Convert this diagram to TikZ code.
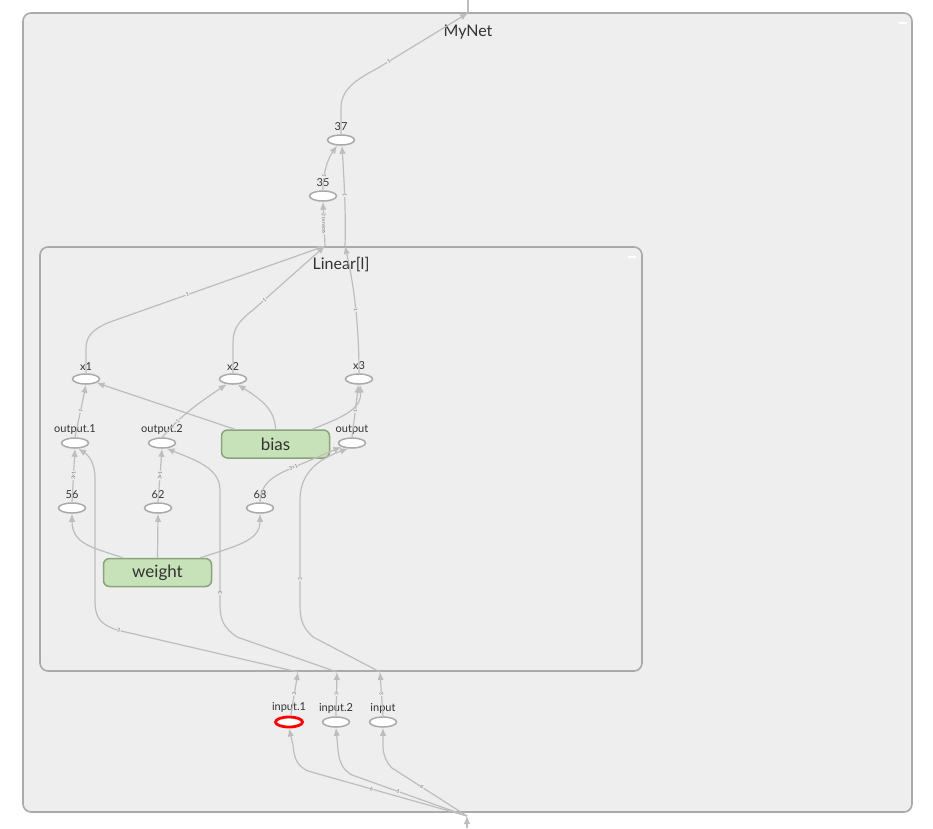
\documentclass[tikz,border=0pt]{standalone}
\usepackage{fontspec}
\setmainfont{Lato}
\usetikzlibrary{shapes.geometric,
	arrows.meta,
	calc,
	positioning}
\definecolor{grpfill}{HTML}{EEEEEE}
\definecolor{grpline}{HTML}{AAAAAA}
\definecolor{edgecol}{HTML}{BDBDBD}
\definecolor{txtcol}{HTML}{333333}
\definecolor{varfill}{HTML}{C7E2B8}
\definecolor{varline}{HTML}{8BA37C}
\tikzstyle{grp}=[draw=grpline, fill=grpfill, line width=1.6pt, rounded corners=8pt]
\tikzstyle{grptitle}=[text=txtcol, font=\fontsize{16}{19}\selectfont, inner sep=0]
\tikzstyle{op}=[ellipse, draw=grpline, fill=white, line width=1.5pt, minimum width=27pt,
		minimum height=10pt, inner sep=0]
\tikzstyle{opin}=[op, draw=red, line width=2.8pt]
\tikzstyle{var}=[draw=varline, fill=varfill, line width=1.5pt, rounded corners=6pt,
		minimum width=108pt, minimum height=28pt, text=txtcol, font=\fontsize{17}{20}\selectfont]
\tikzstyle{lbl}=[text=txtcol, font=\fontsize{11}{13}\selectfont, inner sep=0, yshift=3pt]
\tikzstyle{edge}=[draw=edgecol, line width=1.2pt, -{Latex[length=8pt,width=6.5pt]}]
\tikzstyle{plain}=[draw=edgecol, line width=1.2pt]
\tikzstyle{tag}=[sloped, text=black!55, font=\fontsize{5}{5}\selectfont, inner sep=0.4pt, fill=grpfill]
\tikzstyle{grpmin}=[draw=white, line width=1.6pt]

\begin{document}
\begin{tikzpicture}[x=1pt, y=-1pt]
                \useasboundingbox (0,0) rectangle (933,828);
                \draw[grp] (23,13) rectangle (912,812);
                \node[grptitle] (tnet) at (468,32) {MyNet};
                \draw[grpmin] (899,23) -- (907,23);
                \draw[grp] (40,247) rectangle (642,671);
                \node[grptitle] (tlin) at (341,265) {Linear[l]};
                \draw[grpmin] (628,257) -- (636,257);

                \coordinate (netout) at (468,0);
                \coordinate (nett) at (468,13);
                \coordinate (netin) at (467,828);
                \coordinate (netb) at (467,816);
                \coordinate (lint1) at (325,246);
                \coordinate (lint2) at (345,246);
                \coordinate (linb1) at (298,672);
                \coordinate (linb2) at (337,672);
                \coordinate (linb3) at (380,672);

                \node[op, label={[lbl]above:37}] (n37) at (341,140) {};
                \node[op, label={[lbl]above:35}] (n35) at (323,196) {};
                \node[op, label={[lbl]above:x1}] (x1) at (86,379) {};
                \node[op, label={[lbl]above:x2}] (x2) at (233,379) {};
                \node[op, label={[lbl]above:x3}] (x3) at (359,379) {};
                \node[op, label={[lbl]above:output.1}] (o1) at (75,443) {};
                \node[op, label={[lbl]above:output.2}] (o2) at (162,443) {};
                \node[op, label={[lbl]above:output}] (out) at (352,443) {};
                \node[op, label={[lbl]above:56}] (n56) at (72,508) {};
                \node[op, label={[lbl]above:62}] (n62) at (158,508) {};
                \node[op, label={[lbl]above:68}] (n68) at (260,508) {};
                \node[opin, label={[lbl]above:input.1}] (in1) at (289,722) {};
                \node[op, label={[lbl]above:input.2}] (in2) at (336,722) {};
                \node[op, label={[lbl]above:input}] (inp) at (383,722) {};
                \node[var] (bias) at (275.5,444) {bias};
                \node[var] (weight) at (157.5,572.5) {weight};

                \draw[plain] (nett) -- (netout);
                \draw[edge] (n37.north) -- (341,108) .. controls (341,90) and (355,80) .. (378,68)
                    -- node[tag, pos=0.12] {1} (nett);
                \draw[edge] (n35.north) .. controls (323,174) and (327,160) .. node[tag, pos=0.3] {1} (n37.-125);
                \draw[edge] (lint2) .. controls (346,210) and (344,180) .. node[tag, pos=0.5] {1} (n37.-80);
                \draw[edge] (lint1) -- node[tag] {2 tensors} (n35.south);

                \draw[edge] (x1.north) -- (86,348) .. controls (86,335) and (95,328) .. (110,322)
                    -- node[tag, pos=0.36] {1} (lint1);
                \draw[edge] (x2.north) -- (233,342) .. controls (233,328) and (240,320) .. (253,310)
                    -- node[tag, pos=0.16] {1} (lint1);
                \draw[edge] (x3.north) .. controls (359,330) and (355,290) .. node[tag, pos=0.5] {1} (lint2);

                \draw[edge] (o1.north) -- node[tag] {1} (x1.south);
                \draw[edge] ([xshift=14pt]bias.north west) -- (x1.-20);
                \draw[edge] (o2.north) .. controls (172,427) and (180,415) .. node[tag, pos=0.45] {1} (x2.-140);
                \draw[edge] (bias.north) .. controls (275,410) and (262,400) .. (x2.-50);
                \draw[edge] ([xshift=-18pt]bias.north east) .. controls (340,418) and (362,410) .. (x3.-80);
                \draw[edge] (out.north) -- node[tag] {1} (x3.-95);

                \draw[edge] (n56.north) -- node[tag] {3×1} (o1.south);
                \draw[edge] (n62.north) -- node[tag] {3×1} (o2.south);
                \draw[edge] (n68.north) .. controls (261,488) and (266,480) .. (285,471)
                    -- node[tag, pos=0.15] {3×1} (out.200);

                \draw[edge] ([xshift=20pt]weight.north west) .. controls (95,548) and (72,545) .. (n56.south);
                \draw[edge] (weight.north) -- (n62.south);
                \draw[edge] ([xshift=-12pt]weight.north east) .. controls (240,545) and (260,540) .. (n68.south);

                \draw[edge] (linb1) -- node[tag, pos=0.99] {3} (117,630) .. controls (100,624) and (95,618) .. (95,600)
                    -- (95,478) .. controls (95,462) and (88,455) .. (o1.-60);
                \draw[edge] (linb2) -- (237,637) .. controls (224,628) and (220,620) .. (220,605)
                    -- node[tag, pos=0.1] {3} (220,490) .. controls (220,468) and (195,460) .. (o2.-50);
                \draw[edge] (linb3) -- (313,637) .. controls (303,628) and (300,620) .. (300,605)
                    -- node[tag, pos=0.25] {3} (300,500) .. controls (300,470) and (322,458) .. (out.235);

                \draw[edge] (in1.75) -- node[tag] {3} (linb1);
                \draw[edge] (in2.north) -- node[tag] {3} (linb2);
                \draw[edge] (inp.north) -- node[tag] {3} (linb3);

                \draw[edge] (netin) -- (netb);
                \draw[edge] (netb) -- node[tag, pos=0.6] {6} (308,771) .. controls (297,766) and (294,758) .. (293,745)
                    -- (in1.south);
                \draw[edge] (netb) -- node[tag, pos=0.6] {6} (352,775) .. controls (343,770) and (339,762) .. (338,750)
                    -- (in2.south);
                \draw[edge] (netb) -- node[tag, pos=0.6] {6} (392,768) .. controls (386,762) and (384,756) .. (383,748)
                    -- (inp.south);
            \end{tikzpicture}
\end{document}
